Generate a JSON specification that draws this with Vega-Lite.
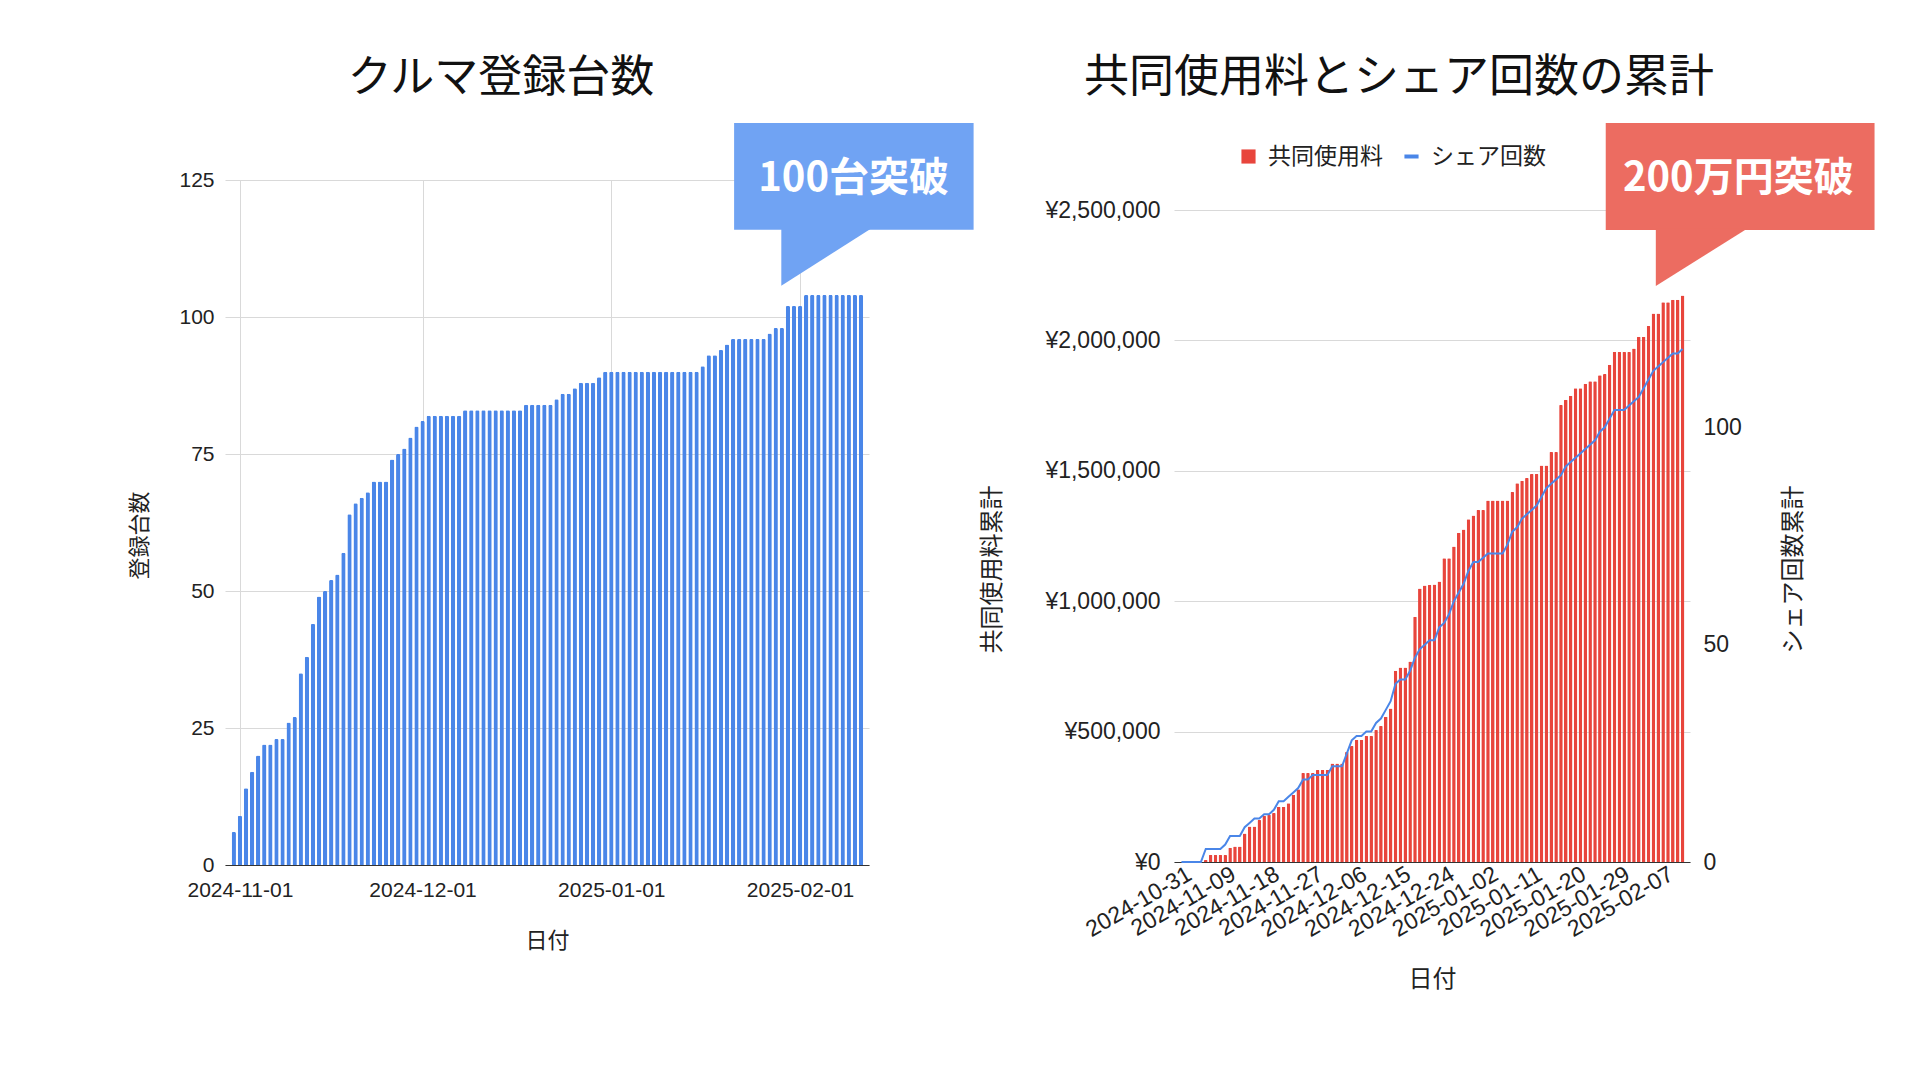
{
  "$schema": "https://vega.github.io/schema/vega-lite/v6.json",
  "background": "white",
  "padding": {"left": 128, "top": 56, "right": 20, "bottom": 20},
  "spacing": 6,
  "datasets": {
    "daily": [
      {"日付": "2024-10-31", "台数": 6, "共同使用料": 0, "シェア回数": 0},
      {"日付": "2024-11-01", "台数": 9, "共同使用料": 0, "シェア回数": 0},
      {"日付": "2024-11-02", "台数": 14, "共同使用料": 0, "シェア回数": 0},
      {"日付": "2024-11-03", "台数": 17, "共同使用料": 0, "シェア回数": 0},
      {"日付": "2024-11-04", "台数": 20, "共同使用料": 0, "シェア回数": 0},
      {"日付": "2024-11-05", "台数": 22, "共同使用料": 8000, "シェア回数": 3},
      {"日付": "2024-11-06", "台数": 22, "共同使用料": 27000, "シェア回数": 3},
      {"日付": "2024-11-07", "台数": 23, "共同使用料": 27000, "シェア回数": 3},
      {"日付": "2024-11-08", "台数": 23, "共同使用料": 27000, "シェア回数": 3},
      {"日付": "2024-11-09", "台数": 26, "共同使用料": 27000, "シェア回数": 4},
      {"日付": "2024-11-10", "台数": 27, "共同使用料": 55000, "シェア回数": 6},
      {"日付": "2024-11-11", "台数": 35, "共同使用料": 59000, "シェア回数": 6},
      {"日付": "2024-11-12", "台数": 38, "共同使用料": 59000, "シェア回数": 6},
      {"日付": "2024-11-13", "台数": 44, "共同使用料": 109000, "シェア回数": 8},
      {"日付": "2024-11-14", "台数": 49, "共同使用料": 136000, "シェア回数": 9},
      {"日付": "2024-11-15", "台数": 50, "共同使用料": 136000, "シェア回数": 10},
      {"日付": "2024-11-16", "台数": 52, "共同使用料": 161000, "シェア回数": 10},
      {"日付": "2024-11-17", "台数": 53, "共同使用料": 177000, "シェア回数": 11},
      {"日付": "2024-11-18", "台数": 57, "共同使用料": 181000, "シェア回数": 11},
      {"日付": "2024-11-19", "台数": 64, "共同使用料": 188000, "シェア回数": 12},
      {"日付": "2024-11-20", "台数": 66, "共同使用料": 212000, "シェア回数": 14},
      {"日付": "2024-11-21", "台数": 67, "共同使用料": 212000, "シェア回数": 14},
      {"日付": "2024-11-22", "台数": 68, "共同使用料": 225000, "シェア回数": 15},
      {"日付": "2024-11-23", "台数": 70, "共同使用料": 258000, "シェア回数": 16},
      {"日付": "2024-11-24", "台数": 70, "共同使用料": 279000, "シェア回数": 17},
      {"日付": "2024-11-25", "台数": 70, "共同使用料": 341000, "シェア回数": 19},
      {"日付": "2024-11-26", "台数": 74, "共同使用料": 341000, "シェア回数": 19},
      {"日付": "2024-11-27", "台数": 75, "共同使用料": 341000, "シェア回数": 20},
      {"日付": "2024-11-28", "台数": 76, "共同使用料": 353000, "シェア回数": 20},
      {"日付": "2024-11-29", "台数": 78, "共同使用料": 353000, "シェア回数": 20},
      {"日付": "2024-11-30", "台数": 80, "共同使用料": 353000, "シェア回数": 20},
      {"日付": "2024-12-01", "台数": 81, "共同使用料": 378000, "シェア回数": 22},
      {"日付": "2024-12-02", "台数": 82, "共同使用料": 378000, "シェア回数": 22},
      {"日付": "2024-12-03", "台数": 82, "共同使用料": 378000, "シェア回数": 22},
      {"日付": "2024-12-04", "台数": 82, "共同使用料": 422000, "シェア回数": 25},
      {"日付": "2024-12-05", "台数": 82, "共同使用料": 445000, "シェア回数": 28},
      {"日付": "2024-12-06", "台数": 82, "共同使用料": 469000, "シェア回数": 29},
      {"日付": "2024-12-07", "台数": 82, "共同使用料": 469000, "シェア回数": 29},
      {"日付": "2024-12-08", "台数": 83, "共同使用料": 483000, "シェア回数": 30},
      {"日付": "2024-12-09", "台数": 83, "共同使用料": 483000, "シェア回数": 30},
      {"日付": "2024-12-10", "台数": 83, "共同使用料": 506000, "シェア回数": 32},
      {"日付": "2024-12-11", "台数": 83, "共同使用料": 521000, "シェア回数": 33},
      {"日付": "2024-12-12", "台数": 83, "共同使用料": 557000, "シェア回数": 35},
      {"日付": "2024-12-13", "台数": 83, "共同使用料": 589000, "シェア回数": 37},
      {"日付": "2024-12-14", "台数": 83, "共同使用料": 733000, "シェア回数": 41},
      {"日付": "2024-12-15", "台数": 83, "共同使用料": 746000, "シェア回数": 42},
      {"日付": "2024-12-16", "台数": 83, "共同使用料": 746000, "シェア回数": 42},
      {"日付": "2024-12-17", "台数": 83, "共同使用料": 769000, "シェア回数": 44},
      {"日付": "2024-12-18", "台数": 84, "共同使用料": 940000, "シェア回数": 47},
      {"日付": "2024-12-19", "台数": 84, "共同使用料": 1049000, "シェア回数": 49},
      {"日付": "2024-12-20", "台数": 84, "共同使用料": 1060000, "シェア回数": 50},
      {"日付": "2024-12-21", "台数": 84, "共同使用料": 1062000, "シェア回数": 51},
      {"日付": "2024-12-22", "台数": 84, "共同使用料": 1064000, "シェア回数": 51},
      {"日付": "2024-12-23", "台数": 85, "共同使用料": 1076000, "シェア回数": 54},
      {"日付": "2024-12-24", "台数": 86, "共同使用料": 1165000, "シェア回数": 55},
      {"日付": "2024-12-25", "台数": 86, "共同使用料": 1165000, "シェア回数": 57},
      {"日付": "2024-12-26", "台数": 87, "共同使用料": 1210000, "シェア回数": 60},
      {"日付": "2024-12-27", "台数": 88, "共同使用料": 1262000, "シェア回数": 62},
      {"日付": "2024-12-28", "台数": 88, "共同使用料": 1275000, "シェア回数": 64},
      {"日付": "2024-12-29", "台数": 88, "共同使用料": 1314000, "シェア回数": 67},
      {"日付": "2024-12-30", "台数": 89, "共同使用料": 1329000, "シェア回数": 69},
      {"日付": "2024-12-31", "台数": 90, "共同使用料": 1350000, "シェア回数": 69},
      {"日付": "2025-01-01", "台数": 90, "共同使用料": 1350000, "シェア回数": 70},
      {"日付": "2025-01-02", "台数": 90, "共同使用料": 1386000, "シェア回数": 71},
      {"日付": "2025-01-03", "台数": 90, "共同使用料": 1386000, "シェア回数": 71},
      {"日付": "2025-01-04", "台数": 90, "共同使用料": 1386000, "シェア回数": 71},
      {"日付": "2025-01-05", "台数": 90, "共同使用料": 1386000, "シェア回数": 71},
      {"日付": "2025-01-06", "台数": 90, "共同使用料": 1386000, "シェア回数": 73},
      {"日付": "2025-01-07", "台数": 90, "共同使用料": 1419000, "シェア回数": 76},
      {"日付": "2025-01-08", "台数": 90, "共同使用料": 1452000, "シェア回数": 77},
      {"日付": "2025-01-09", "台数": 90, "共同使用料": 1462000, "シェア回数": 79},
      {"日付": "2025-01-10", "台数": 90, "共同使用料": 1472000, "シェア回数": 80},
      {"日付": "2025-01-11", "台数": 90, "共同使用料": 1488000, "シェア回数": 81},
      {"日付": "2025-01-12", "台数": 90, "共同使用料": 1488000, "シェア回数": 82},
      {"日付": "2025-01-13", "台数": 90, "共同使用料": 1520000, "シェア回数": 84},
      {"日付": "2025-01-14", "台数": 90, "共同使用料": 1520000, "シェア回数": 86},
      {"日付": "2025-01-15", "台数": 90, "共同使用料": 1572000, "シェア回数": 87},
      {"日付": "2025-01-16", "台数": 91, "共同使用料": 1572000, "シェア回数": 88},
      {"日付": "2025-01-17", "台数": 93, "共同使用料": 1752000, "シェア回数": 89},
      {"日付": "2025-01-18", "台数": 93, "共同使用料": 1772000, "シェア回数": 91},
      {"日付": "2025-01-19", "台数": 94, "共同使用料": 1788000, "シェア回数": 92},
      {"日付": "2025-01-20", "台数": 95, "共同使用料": 1817000, "シェア回数": 93},
      {"日付": "2025-01-21", "台数": 96, "共同使用料": 1817000, "シェア回数": 94},
      {"日付": "2025-01-22", "台数": 96, "共同使用料": 1834000, "シェア回数": 95},
      {"日付": "2025-01-23", "台数": 96, "共同使用料": 1843000, "シェア回数": 96},
      {"日付": "2025-01-24", "台数": 96, "共同使用料": 1843000, "シェア回数": 97},
      {"日付": "2025-01-25", "台数": 96, "共同使用料": 1866000, "シェア回数": 99},
      {"日付": "2025-01-26", "台数": 96, "共同使用料": 1871000, "シェア回数": 100},
      {"日付": "2025-01-27", "台数": 97, "共同使用料": 1907000, "シェア回数": 102},
      {"日付": "2025-01-28", "台数": 98, "共同使用料": 1956000, "シェア回数": 104},
      {"日付": "2025-01-29", "台数": 98, "共同使用料": 1956000, "シェア回数": 104},
      {"日付": "2025-01-30", "台数": 102, "共同使用料": 1956000, "シェア回数": 104},
      {"日付": "2025-01-31", "台数": 102, "共同使用料": 1956000, "シェア回数": 105},
      {"日付": "2025-02-01", "台数": 102, "共同使用料": 1969000, "シェア回数": 106},
      {"日付": "2025-02-02", "台数": 104, "共同使用料": 2014000, "シェア回数": 107},
      {"日付": "2025-02-03", "台数": 104, "共同使用料": 2014000, "シェア回数": 109},
      {"日付": "2025-02-04", "台数": 104, "共同使用料": 2055000, "シェア回数": 111},
      {"日付": "2025-02-05", "台数": 104, "共同使用料": 2103000, "シェア回数": 113},
      {"日付": "2025-02-06", "台数": 104, "共同使用料": 2103000, "シェア回数": 114},
      {"日付": "2025-02-07", "台数": 104, "共同使用料": 2146000, "シェア回数": 115},
      {"日付": "2025-02-08", "台数": 104, "共同使用料": 2146000, "シェア回数": 116},
      {"日付": "2025-02-09", "台数": 104, "共同使用料": 2156000, "シェア回数": 117},
      {"日付": "2025-02-10", "台数": 104, "共同使用料": 2156000, "シェア回数": 117},
      {"日付": "2025-02-11", "台数": 104, "共同使用料": 2172000, "シェア回数": 118}
    ]
  },
  "hconcat": [
    {
      "width": 644,
      "height": 685,
      "title": {"text": "クルマ登録台数", "font": "Noto Sans CJK JP", "fontSize": 44, "fontWeight": "normal", "color": "#111111", "anchor": "middle", "frame": "group", "dx": -46, "offset": 22},
      "layer": [
        {
          "data": {"name": "daily"},
          "mark": {"type": "bar", "size": 4.3, "color": "#4a86e8", "cornerRadiusTopLeft": 1.5, "cornerRadiusTopRight": 1.5},
          "encoding": {
            "x": {
              "field": "日付", "type": "temporal", "title": "日付",
              "scale": {"type": "utc", "domain": [{"year": 2024, "month": 10, "date": 30, "hours": 9, "utc": true}, {"year": 2025, "month": 2, "date": 11, "hours": 12, "utc": true}]},
              "axis": {
                "values": [{"year": 2024, "month": 11, "date": 1, "utc": true}, {"year": 2024, "month": 12, "date": 1, "utc": true}, {"year": 2025, "month": 1, "date": 1, "utc": true}, {"year": 2025, "month": 2, "date": 1, "utc": true}],
                "format": "%Y-%m-%d", "labelFontSize": 21, "labelPadding": 14, "grid": true, "titlePadding": 30, "titleFontSize": 22
              }
            },
            "y": {
              "field": "台数", "type": "quantitative", "title": "登録台数",
              "scale": {"domain": [0, 125], "nice": false},
              "axis": {"values": [0, 25, 50, 75, 100, 125], "labelFontSize": 21, "labelPadding": 11, "titlePadding": 27, "titleFontSize": 22, "titleY": 355, "domain": false}
            }
          }
        },
        {
          "data": {"values": [{"x1": "2025-01-21T04:00:00Z", "x2": "2025-03-01T12:00:00Z", "y1": 135.4, "y2": 115.9}]},
          "mark": {"type": "rect", "color": "#70a3f3"},
          "encoding": {
            "x": {"field": "x1", "type": "temporal", "title": "日付"},
            "x2": {"field": "x2"},
            "y": {"field": "y1", "type": "quantitative", "title": "登録台数"},
            "y2": {"field": "y2"}
          }
        },
        {
          "data": {"values": [{"x": "2025-01-28T22:00:00Z", "y1": 105.7, "y2": 116.2}, {"x": "2025-02-12T18:00:00Z", "y1": 116.2, "y2": 116.2}]},
          "mark": {"type": "area", "color": "#70a3f3"},
          "encoding": {
            "x": {"field": "x", "type": "temporal", "title": "日付"},
            "y": {"field": "y1", "type": "quantitative", "title": "登録台数"},
            "y2": {"field": "y2"}
          }
        },
        {
          "data": {"values": [{"x": "2025-02-09T19:00:00Z", "y": 125.2, "label": "100台突破"}]},
          "mark": {"type": "text", "font": "Noto Sans CJK JP", "fontWeight": "bold", "fontSize": 40, "color": "white", "align": "center", "baseline": "middle"},
          "encoding": {
            "x": {"field": "x", "type": "temporal", "title": "日付"},
            "y": {"field": "y", "type": "quantitative", "title": "登録台数"},
            "text": {"field": "label"}
          }
        }
      ]
    },
    {
      "width": 516,
      "height": 682,
      "title": {"text": "共同使用料とシェア回数の累計", "font": "Noto Sans CJK JP", "fontSize": 45, "fontWeight": "normal", "color": "#111111", "anchor": "middle", "frame": "group", "dx": -33, "offset": 22},
      "layer": [
        {
          "layer": [
            {
              "data": {"name": "daily"},
              "mark": {"type": "bar", "size": 3.6, "cornerRadiusTopLeft": 1, "cornerRadiusTopRight": 1},
              "encoding": {
                "x": {
                  "field": "日付", "type": "temporal", "title": "日付",
                  "scale": {"type": "utc", "domain": [{"year": 2024, "month": 10, "date": 30, "hours": 12, "utc": true}, {"year": 2025, "month": 2, "date": 11, "hours": 12, "utc": true}]},
                  "axis": {
                    "values": [
                      {"year": 2024, "month": 10, "date": 31, "utc": true}, {"year": 2024, "month": 11, "date": 9, "utc": true},
                      {"year": 2024, "month": 11, "date": 18, "utc": true}, {"year": 2024, "month": 11, "date": 27, "utc": true},
                      {"year": 2024, "month": 12, "date": 6, "utc": true}, {"year": 2024, "month": 12, "date": 15, "utc": true},
                      {"year": 2024, "month": 12, "date": 24, "utc": true}, {"year": 2025, "month": 1, "date": 2, "utc": true},
                      {"year": 2025, "month": 1, "date": 11, "utc": true}, {"year": 2025, "month": 1, "date": 20, "utc": true},
                      {"year": 2025, "month": 1, "date": 29, "utc": true}, {"year": 2025, "month": 2, "date": 7, "utc": true}
                    ],
                    "format": "%Y-%m-%d", "labelAngle": -30, "labelAlign": "right", "labelBaseline": "middle", "labelOffset": 8,
                    "labelFontSize": 23, "labelPadding": 10, "grid": false, "titlePadding": 26, "titleFontSize": 24
                  }
                },
                "y": {
                  "field": "共同使用料", "type": "quantitative", "title": "共同使用料累計",
                  "scale": {"domain": [0, 2615031], "nice": false},
                  "axis": {"values": [0, 500000, 1000000, 1500000, 2000000, 2500000], "labelExpr": "'¥' + format(datum.value, ',')", "labelFontSize": 23, "labelPadding": 14, "titlePadding": 40, "titleFontSize": 24, "titleY": 389, "domain": false}
                },
                "fill": {
                  "datum": "共同使用料",
                  "scale": {"range": ["#e8453c"]},
                  "legend": {"orient": "none", "legendX": 63, "legendY": -35, "title": null, "symbolType": "square", "symbolSize": 200, "labelFontSize": 23, "labelFont": "Noto Sans CJK JP", "labelColor": "#222222", "labelOffset": 8}
                }
              }
            },
            {
              "data": {"values": [{"x1": "2025-01-26T05:00:00Z", "x2": "2025-03-22T11:00:00Z", "y1": 2833589, "y2": 2423313}]},
              "mark": {"type": "rect", "color": "#ec6c61"},
              "encoding": {
                "x": {"field": "x1", "type": "temporal", "title": "日付"},
                "x2": {"field": "x2"},
                "y": {"field": "y1", "type": "quantitative", "title": "共同使用料累計"},
                "y2": {"field": "y2"}
              }
            },
            {
              "data": {"values": [{"x": "2025-02-05T12:00:00Z", "y1": 2208589, "y2": 2430000}, {"x": "2025-02-24T10:00:00Z", "y1": 2430000, "y2": 2430000}]},
              "mark": {"type": "area", "color": "#ec6c61"},
              "encoding": {
                "x": {"field": "x", "type": "temporal", "title": "日付"},
                "y": {"field": "y1", "type": "quantitative", "title": "共同使用料累計"},
                "y2": {"field": "y2"}
              }
            },
            {
              "data": {"values": [{"x": "2025-02-22T11:00:00Z", "y": 2618865, "label": "200万円突破"}]},
              "mark": {"type": "text", "font": "Noto Sans CJK JP", "fontWeight": "bold", "fontSize": 40, "color": "white", "align": "center", "baseline": "middle"},
              "encoding": {
                "x": {"field": "x", "type": "temporal", "title": "日付"},
                "y": {"field": "y", "type": "quantitative", "title": "共同使用料累計"},
                "text": {"field": "label"}
              }
            }
          ]
        },
        {
          "data": {"name": "daily"},
          "mark": {"type": "line", "strokeWidth": 2},
          "encoding": {
            "x": {"field": "日付", "type": "temporal", "title": "日付"},
            "y": {
              "field": "シェア回数", "type": "quantitative", "title": "シェア回数累計",
              "scale": {"domain": [0, 156.9], "nice": false},
              "axis": {"orient": "right", "values": [0, 50, 100], "grid": false, "domain": false, "labelFontSize": 23, "labelPadding": 13, "titlePadding": 40, "titleFontSize": 24, "titleAngle": 270, "titleBaseline": "top", "titleY": 389}
            },
            "stroke": {
              "datum": "シェア回数",
              "scale": {"range": ["#4a86e8"]},
              "legend": {"orient": "none", "legendX": 226, "legendY": -35, "title": null, "symbolType": "stroke", "symbolSize": 200, "symbolStrokeWidth": 4, "labelFontSize": 23, "labelFont": "Noto Sans CJK JP", "labelColor": "#222222", "labelOffset": 8}
            }
          }
        }
      ],
      "resolve": {"scale": {"y": "independent"}}
    }
  ],
  "resolve": {
    "scale": {"fill": "independent", "stroke": "independent"},
    "legend": {"fill": "independent", "stroke": "independent"}
  },
  "config": {
    "font": "Liberation Sans",
    "view": {"stroke": null},
    "axis": {
      "labelFont": "Liberation Sans",
      "labelColor": "#222222",
      "titleFont": "Noto Sans CJK JP",
      "titleFontWeight": "normal",
      "titleColor": "#222222",
      "ticks": false,
      "gridColor": "#d9d9d9",
      "domainColor": "#333333",
      "labelOverlap": false,
      "labelFlush": false
    }
  }
}
